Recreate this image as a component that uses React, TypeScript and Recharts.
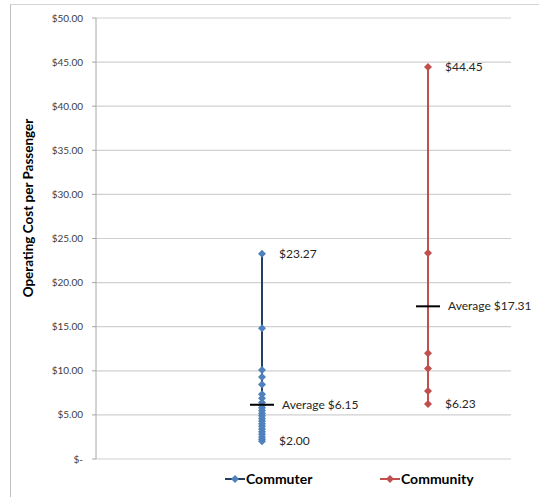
import React from 'react';
import { ComposedChart, Scatter, XAxis, YAxis, CartesianGrid } from 'recharts';

// ---- data ----
const categories = ['Commuter', 'Community'];
const categoryX = [1, 2];
const commuterValues = [23.27, 14.82, 10.1, 9.3, 8.45, 7.35, 6.9, 6.4, 6.1, 5.8, 5.5, 5.2, 4.9, 4.6, 4.3, 4.0, 3.7, 3.4, 3.1, 2.8, 2.5, 2.25, 2.0];
const communityValues = [44.45, 23.35, 11.98, 10.25, 7.7, 6.23];
const averageValues = [6.15, 17.31];
const yTicks = [0, 5, 10, 15, 20, 25, 30, 35, 40, 45, 50];
const endLabels = [
  { cat: 0, y: 23.27, text: '$23.27' },
  { cat: 0, y: 2.0, text: '$2.00' },
  { cat: 1, y: 44.45, text: '$44.45' },
  { cat: 1, y: 6.23, text: '$6.23' },
];

const COLORS = {
  commuterMarker: '#4F81BD',
  commuterLine: '#243F60',
  community: '#C0504D',
};

const commuterData = commuterValues.map((v) => ({ x: categoryX[0], y: v }));
const communityData = communityValues.map((v) => ({ x: categoryX[1], y: v }));
const averageData = averageValues.map((v, i) => ({ x: categoryX[i], y: v, text: `Average $${v.toFixed(2)}` }));
const labelData = endLabels.map((l) => ({ x: categoryX[l.cat], y: l.y, text: l.text }));

const fmt = (v: number) => (v === 0 ? '$-' : `$${v.toFixed(2)}`);

const Diamond = ({ cx, cy, fill, r = 4 }: any) => {
  if (cx == null || cy == null) return null;
  return <path d={`M${cx},${cy - r}L${cx + r},${cy}L${cx},${cy + r}L${cx - r},${cy}Z`} fill={fill} />;
};

const AvgShape = (props: any) => {
  const { cx, cy, payload } = props;
  if (cx == null || cy == null) return null;
  return (
    <g>
      <line x1={cx - 12} x2={cx + 12} y1={cy} y2={cy} stroke="#000" strokeWidth={2} />
      <text x={cx + 20} y={cy + 4} fontSize={12} fill="#262626">{payload.text}</text>
    </g>
  );
};

const LabelShape = (props: any) => {
  const { cx, cy, payload } = props;
  if (cx == null || cy == null) return null;
  return (
    <text x={cx + 17} y={cy + 4} fontSize={12} fill="#262626">{payload.text}</text>
  );
};

const YTitle = () => {
  return (
    <text
      x={28}
      y={208}
      transform="rotate(-90 28 208)"
      textAnchor="middle"
      dominantBaseline="central"
      fontSize={13.5}
      fontWeight="bold"
      fill="#000"
    >
      Operating Cost per Passenger
    </text>
  );
};

const LegendItem = ({ color, lineColor, label }: any) => (
  <div style={{ display: 'flex', alignItems: 'center' }}>
    <svg width={20} height={10} style={{ marginRight: 1 }}>
      <line x1={0} x2={20} y1={5} y2={5} stroke={lineColor} strokeWidth={2} />
      <Diamond cx={10} cy={5} fill={color} r={4} />
    </svg>
    <span style={{ fontWeight: 'bold', fontSize: 14, color: '#000' }}>{label}</span>
  </div>
);

export default function App() {
  return (
    <div style={{ position: 'absolute', left: 0, top: 0, width: 539, height: 497, fontFamily: 'Lato, "Open Sans", sans-serif', background: '#fff', overflow: 'hidden' }}>
      <div style={{ position: 'absolute', left: 10, top: 4, width: 600, height: 600, borderLeft: '1.5px solid #BFBFBF', borderTop: '1.5px solid #D4D4D4' }} />
      <div style={{ position: 'absolute', left: 0, top: 0 }}>
        <ComposedChart width={539} height={497} margin={{ top: 18, right: 28, bottom: 38, left: 0 }}>
          <CartesianGrid vertical={false} stroke="#D0D0D0" strokeWidth={1.2} />
          <XAxis type="number" dataKey="x" domain={[0, 2.5]} hide />
          <YAxis
            type="number"
            dataKey="y"
            domain={[0, 50]}
            ticks={yTicks}
            tickFormatter={fmt}
            width={96}
            tickSize={4}
            tickMargin={9}
            axisLine={{ stroke: '#A6A6A6' }}
            tickLine={{ stroke: '#A6A6A6' }}
            tick={{ fontSize: 10, fill: '#404040' }}
            interval={0}
            label={<YTitle />}
          />
          <Scatter
            name={categories[0]}
            data={commuterData}
            line={{ stroke: COLORS.commuterLine, strokeWidth: 2 }}
            shape={(p: any) => <Diamond cx={p.cx} cy={p.cy} fill={COLORS.commuterMarker} />}
            isAnimationActive={false}
          />
          <Scatter
            name={categories[1]}
            data={communityData}
            line={{ stroke: COLORS.community, strokeWidth: 2 }}
            shape={(p: any) => <Diamond cx={p.cx} cy={p.cy} fill={COLORS.community} />}
            isAnimationActive={false}
          />
          <Scatter name="avg" data={averageData} shape={AvgShape} isAnimationActive={false} />
          <Scatter name="labels" data={labelData} shape={LabelShape} isAnimationActive={false} />
        </ComposedChart>
      </div>
      <div style={{ position: 'absolute', left: 225, top: 470 }}>
        <LegendItem color={COLORS.commuterMarker} lineColor={COLORS.commuterLine} label={categories[0]} />
      </div>
      <div style={{ position: 'absolute', left: 380, top: 470 }}>
        <LegendItem color={COLORS.community} lineColor={COLORS.community} label={categories[1]} />
      </div>
    </div>
  );
}
